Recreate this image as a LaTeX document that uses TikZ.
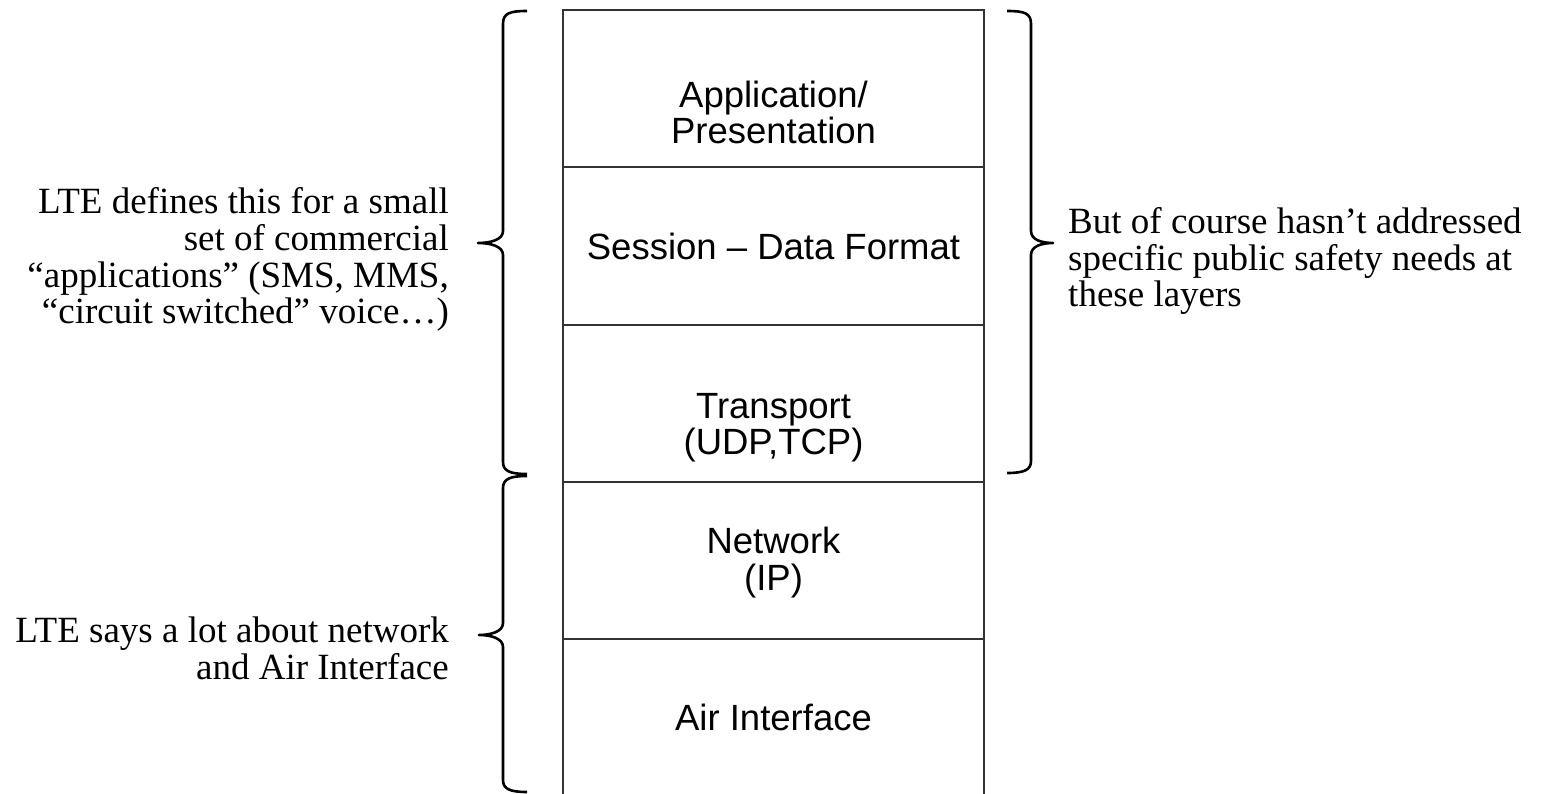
\documentclass[tikz,border=0pt]{standalone}
\usepackage{fontspec}
\setmainfont{Liberation Serif}
\newfontfamily\arialf{Liberation Sans}
\begin{document}
\begin{tikzpicture}[x=1pt,y=-1pt,
  layer/.style={draw=black!80,line width=1.3pt,minimum width=421pt,inner sep=0pt,outer sep=0pt},
  lbl/.style={font=\arialf\fontsize{36.5}{36}\selectfont,inner sep=0pt,anchor=base},
  note/.style={font=\fontsize{37}{37}\selectfont,inner sep=0pt},
  bracepath/.style={draw=black,line width=2.6pt,line cap=butt,line join=round}]
\useasboundingbox (0,0) rectangle (1554,794);
% layers
\node[layer,minimum height=157pt] (l1) at (773.5,88.5) {};
\node[layer,minimum height=158pt] (l2) at (773.5,246) {};
\node[layer,minimum height=157pt] (l3) at (773.5,403.5) {};
\node[layer,minimum height=157pt] (l4) at (773.5,560.5) {};
\node[layer,minimum height=162pt] (l5) at (773.5,720) {};
% layer texts
\node[lbl] (t1a) at (773.5,108) {Application/};
\node[lbl] (t1b) at (773.5,144) {Presentation};
\node[lbl] (t2) at (773.5,259) {Session – Data Format};
\node[lbl] (t3a) at (773.5,418) {Transport};
\node[lbl] (t3b) at (773.5,454) {(UDP,TCP)};
\node[lbl] (t4a) at (773.5,553) {Network};
\node[lbl] (t4b) at (773.5,590) {(IP)};
\node[lbl] (t5) at (773.5,730) {Air Interface};
% left notes
\node[note,anchor=base east] (n1a) at (449,214) {LTE defines this for a small};
\node[note,anchor=base east] (n1b) at (449,251) {set of commercial};
\node[note,anchor=base east] (n1c) at (449,287) {“applications” (SMS, MMS,};
\node[note,anchor=base east] (n1d) at (449,323) {“circuit switched” voice…)};
\node[note,anchor=base east] (n2a) at (449,642) {LTE says a lot about network};
\node[note,anchor=base east] (n2b) at (449,679) {and Air Interface};
% right notes
\node[note,anchor=base west] (n3a) at (1068,234) {But of course hasn’t addressed};
\node[note,anchor=base west] (n3b) at (1068,270) {specific public safety needs at};
\node[note,anchor=base west] (n3c) at (1068,306) {these layers};
% braces
\draw[bracepath] (527,11) .. controls (510,11) and (503,13) .. (503,24) -- (503,231)
  .. controls (503,240) and (490,243) .. (478,243)
  .. controls (490,243) and (503,246) .. (503,255) -- (503,462)
  .. controls (503,471) and (510,474) .. (527,474);
\draw[bracepath] (527,476) .. controls (510,476) and (503,479) .. (503,488) -- (503,623)
  .. controls (503,632) and (490,635) .. (479,635)
  .. controls (490,635) and (503,638) .. (503,647) -- (503,780)
  .. controls (503,789) and (510,792) .. (527,792);
\draw[bracepath] (1007,11) .. controls (1024,11) and (1031,13) .. (1031,24) -- (1031,231)
  .. controls (1031,240) and (1042,243) .. (1053,243)
  .. controls (1042,243) and (1031,246) .. (1031,255) -- (1031,461)
  .. controls (1031,470) and (1024,473) .. (1007,473);
\end{tikzpicture}
\end{document}
